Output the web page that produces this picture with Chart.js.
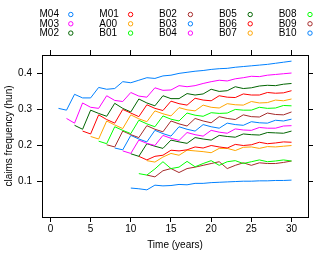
<!DOCTYPE html>
<html>
<head>
<meta charset="utf-8">
<script src="https://cdn.jsdelivr.net/npm/chart.js@4"></script>
<style>
  html, body { margin: 0; padding: 0; background: #fff; }
</style>
</head>
<body>
<canvas id="diag-frequence" width="332" height="258"></canvas>
<script>
//----------------------------------données

// noms des séries et année de départ
const seriesNames = ['M04', 'M03', 'M02', 'M01', 'A00', 'B01', 'B02', 'B03', 'B04', 'B05', 'B06', 'B07', 'B08', 'B09', 'B10'];
const startYears = [1, 2, 3, 4, 5, 6, 7, 8, 9, 10, 11, 12, 11, 12, 10];

// fréquences (une valeur par année, jusqu'à 30)
const m04 = [.303, .298, .342, .332, .332, .361, .356, .358, .377, .374, .381, .388, .386, .393, .395, .400, .403, .406, .408, .411, .413, .414, .417, .419, .421, .423, .425, .428, .431, .434];
const m03 = [.275, .262, .318, .306, .303, .338, .325, .322, .347, .337, .334, .360, .353, .354, .366, .363, .366, .372, .377, .381, .379, .385, .388, .392, .391, .395, .397, .399, .401];
const m02 = [.256, .245, .298, .289, .281, .317, .303, .293, .329, .318, .310, .338, .330, .330, .344, .340, .343, .356, .350, .352, .363, .358, .360, .365, .367, .366, .370, .372];
const m01 = [.240, .232, .285, .272, .262, .300, .290, .280, .313, .303, .297, .323, .316, .312, .331, .326, .324, .338, .334, .333, .343, .340, .340, .347, .345, .346, .352];
const a00 = [.225, .218, .268, .257, .247, .285, .274, .266, .296, .288, .282, .305, .299, .296, .312, .306, .304, .316, .313, .312, .322, .318, .319, .326, .324, .329];
const b01 = [.212, .205, .252, .242, .233, .270, .260, .252, .282, .273, .268, .290, .284, .281, .291, .289, .290, .300, .298, .298, .306, .303, .304, .311, .310];
const b02 = [.202, .196, .240, .230, .222, .255, .245, .238, .268, .260, .254, .275, .268, .263, .280, .275, .272, .285, .280, .279, .290, .286, .285, .293];
const b03 = [.193, .188, .228, .218, .210, .242, .233, .226, .252, .245, .240, .258, .252, .248, .262, .258, .256, .266, .263, .262, .270, .268, .273];
const b04 = [.185, .178, .215, .206, .200, .228, .220, .214, .236, .230, .226, .242, .237, .234, .246, .243, .242, .250, .248, .248, .254, .255];
const b05 = [.177, .170, .205, .198, .192, .215, .210, .206, .222, .218, .215, .228, .225, .223, .232, .230, .229, .236, .235, .234, .240];
const b06 = [.170, .160, .170, .173, .187, .185, .188, .196, .193, .200, .196, .193, .203, .200, .202, .209, .205, .207, .210, .209];
const b07 = [.158, .154, .168, .178, .173, .187, .185, .183, .180, .192, .192, .186, .195, .196, .192, .197, .196, .198, .200];
const b08 = [.122, .118, .135, .155, .136, .140, .156, .141, .150, .158, .145, .155, .158, .150, .155, .160, .155, .157, .160, .157];
const b09 = [.118, .113, .130, .136, .125, .136, .140, .145, .150, .155, .136, .145, .152, .145, .152, .150, .150, .153, .157];
const b10 = [.082, .080, .077, .090, .088, .089, .092, .091, .095, .095, .097, .098, .099, .100, .101, .101, .102, .102, .103, .103, .104];

const seriesValues = [m04, m03, m02, m01, a00, b01, b02, b03, b04, b05, b06, b07, b08, b09, b10];

// graduations
const xTicks = [0, 5, 10, 15, 20, 25, 30];
const yTicks = [0.1, 0.2, 0.3, 0.4];

// couleurs lattice
const palette = ['#0080ff', '#ff00ff', '#006400', '#ff0000', '#ffa500', '#00ff00', '#a52a2a'];

//----------------------------------construction des datasets

let datasets = [];
seriesNames.forEach((name, i) => {
  let points = [];
  seriesValues[i].forEach((v, j) => {
    points.push({ x: startYears[i] + j, y: v });
  });
  datasets.push({
    label: name,
    data: points,
    borderColor: palette[i % palette.length],
    backgroundColor: palette[i % palette.length],
    borderWidth: 1,
    pointRadius: 0,
    tension: 0,
    fill: false
  });
});

//----------------------------------légende en colonnes (texte puis cercle)

const legendeColonnes = {
  id: 'legendeColonnes',
  afterDraw(chart) {
    const ctx = chart.ctx;
    ctx.save();
    ctx.font = '10px "Liberation Sans", Arial, sans-serif';
    ctx.textBaseline = 'middle';
    ctx.textAlign = 'left';
    chart.data.datasets.forEach((ds, i) => {
      const col = Math.floor(i / 3);
      const row = i % 3;
      const x = 39.5 + col * 59.8;
      const y = 14.5 + row * 9.3;
      ctx.fillStyle = '#000';
      ctx.fillText(ds.label, x, y);
      ctx.strokeStyle = ds.borderColor;
      ctx.lineWidth = 1;
      ctx.beginPath();
      ctx.arc(x + 31.3, y, 2.2, 0, 2 * Math.PI);
      ctx.stroke();
    });
    ctx.restore();
  }
};

//----------------------------------axes

const setTicks = (values) => (scale) => {
  scale.ticks = values.map(v => ({ value: v }));
};

const axeCommun = {
  type: 'linear',
  grid: { drawOnChartArea: false, drawTicks: true, tickLength: 5, color: '#000', tickColor: '#000' },
  border: { display: true, color: '#000', width: 1 }
};

Chart.defaults.font.family = '"Liberation Sans", Arial, sans-serif';
Chart.defaults.font.size = 10;
Chart.defaults.color = '#000';

const canvasFreq = document.getElementById('diag-frequence');

new Chart(canvasFreq, {
  type: 'line',
  data: { datasets: datasets },
  options: {
    responsive: false,
    animation: false,
    layout: { padding: { top: 50, left: 0, right: 0, bottom: 0 } },
    plugins: { legend: { display: false }, tooltip: { enabled: false } },
    scales: {
      x: {
        ...axeCommun,
        position: 'bottom',
        min: -1.05, max: 32.05,
        afterBuildTicks: setTicks(xTicks),
        afterFit: (s) => { s.height = 41; },
        ticks: { padding: 1, maxRotation: 0, callback: v => String(v) },
        title: { display: true, text: 'Time (years)', padding: { top: 0, bottom: 7 } }
      },
      xTop: {
        ...axeCommun,
        position: 'top',
        min: -1.05, max: 32.05,
        afterBuildTicks: setTicks(xTicks),
        afterFit: (s) => { s.height = 5; },
        ticks: { display: false }
      },
      y: {
        ...axeCommun,
        position: 'left',
        min: 0.0017, max: 0.451,
        afterBuildTicks: setTicks(yTicks),
        afterFit: (s) => { s.width = 42; },
        ticks: { padding: 5, callback: v => v.toFixed(1) },
        title: { display: true, text: 'claims frequency (hun)', padding: { top: 3, bottom: 0 } }
      },
      yRight: {
        ...axeCommun,
        position: 'right',
        min: 0.0017, max: 0.451,
        afterBuildTicks: setTicks(yTicks),
        afterFit: (s) => { s.width = 24; },
        ticks: { display: false }
      }
    }
  },
  plugins: [legendeColonnes]
});
</script>
</body>
</html>
